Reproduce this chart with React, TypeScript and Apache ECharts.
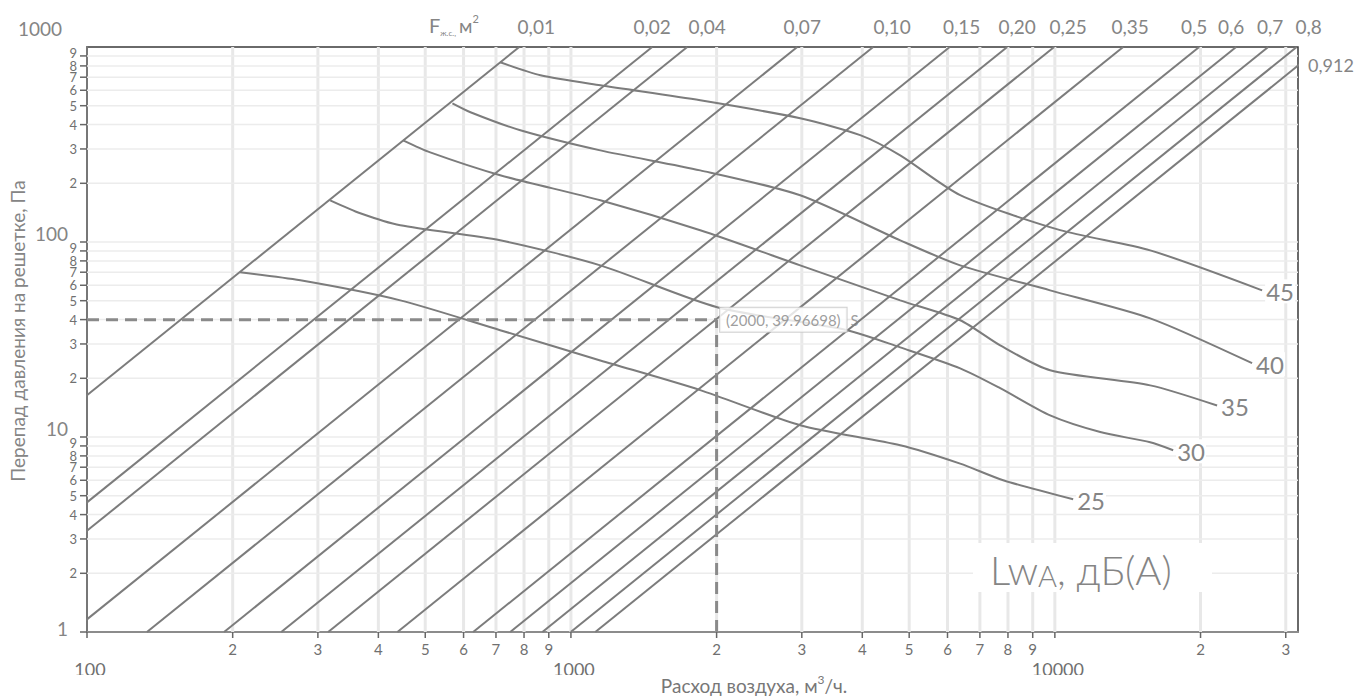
import React, { useEffect, useRef } from "react";
import * as echarts from "echarts";

const X_MIN = 100;
const X_MAX = 31800;
const Y_MIN = 1;
const Y_MAX = 1000;

// grille free-area lines (F, m2) and the flow at which each reaches 1 Pa and 1000 Pa
const grilleAreas = ["0,01", "0,02", "0,04", "0,07", "0,10", "0,15", "0,20", "0,25", "0,35", "0,5", "0,6", "0,7", "0,8", "0,912"];
const qAt1Pa = [24.7, 46.5, 55, 92.8, 133, 192, 252, 315, 438, 628, 749, 873, 999, 1123];
const qAt1000Pa = [782, 1472, 1739, 2935, 4213, 6063, 7971, 9967, 13840, 19870, 23690, 27590, 31600, 35500];

// noise level curves LwA, dB(A)
const noiseLevels = ["25", "30", "35", "40", "45"];
const noise25 = [[207, 69.9], [276, 63.6], [444, 50.2], [714, 35.3], [1150, 24.7], [1850, 17.4], [2977, 11.5], [4791, 9.07], [6373, 7.3], [7820, 6.0], [10910, 4.79]];
const noise30 = [[318, 163.6], [367, 140.4], [444, 121.8], [714, 102], [1150, 75.9], [2006, 46.3], [3723, 35.3], [4791, 28.8], [6373, 22.5], [7709, 17.8], [9777, 12.9], [12410, 10.6], [15740, 9.39], [17560, 8.55]];
const noise35 = [[450, 332], [512, 288], [714, 220], [1150, 163.6], [1850, 114.8], [2977, 75.9], [4791, 50.2], [6373, 39.7], [7709, 29.5], [9777, 22.0], [15740, 18.4], [21640, 14.5]];
const noise40 = [[569, 514], [620, 463], [786, 374], [1150, 295], [1850, 233], [2977, 173.6], [4791, 102], [6373, 75.9], [9777, 56.5], [15740, 40.6], [25560, 23.9]];
const noise45 = [[714, 835], [865, 716], [1150, 636], [1850, 533], [2977, 431], [3960, 353], [4791, 278], [6373, 174], [10256, 115], [15740, 90.6], [26810, 56.5]];
const noiseCurves = [noise25, noise30, noise35, noise40, noise45];

// working point
const workPoint = [2000, 39.96698];

// axis ticks
const xTickValues = [100, 200, 300, 400, 500, 600, 700, 800, 900, 1000, 2000, 3000, 4000, 5000, 6000, 7000, 8000, 9000, 10000, 20000, 30000];
const xTickLabels = ["", "2", "3", "4", "5", "6", "7", "8", "9", "", "2", "3", "4", "5", "6", "7", "8", "9", "", "2", "3"];
const xMajorValues = [100, 1000, 10000];
const xMajorLabels = ["100", "1000", "10000"];
const yTickValues = [1, 2, 3, 4, 5, 6, 7, 8, 9, 10, 20, 30, 40, 50, 60, 70, 80, 90, 100, 200, 300, 400, 500, 600, 700, 800, 900];
const yTickLabels = ["", "2", "3", "4", "5", "6", "7", "8", "9", "", "2", "3", "4", "5", "6", "7", "8", "9", "", "2", "3", "4", "5", "6", "7", "8", "9"];
const yMajorValues = [1, 10, 100, 1000];
const yMajorLabels = ["1", "10", "100", "1000"];

// horizontal nudges of the area labels relative to where each line meets the top edge (px)
const AREA_LABEL_NUDGE = [17, 0, 20, 5, 19, 12, 10, 14, 7, -5, -5, 2, 12];

const FONT = "Lato, 'Noto Sans', sans-serif";
const TXT = "#858585";
const TICK_TXT = "#707070";
const LINE = "#7c7c7c";

function buildOption() {
  const grilleSeries = qAt1Pa.map((q1, i) => ({
    type: "line",
    name: "F " + grilleAreas[i],
    data: [[q1, Y_MIN], [qAt1000Pa[i], Y_MAX]],
    symbol: "none",
    silent: true,
    z: 3,
    lineStyle: { color: LINE, width: 2 },
  }));

  const noiseSeries = noiseCurves.map((pts, i) => ({
    type: "line",
    name: "LwA " + noiseLevels[i],
    data: pts,
    symbol: "none",
    smooth: 0.25,
    silent: true,
    z: 4,
    lineStyle: { color: LINE, width: 2 },
    endLabel: {
      show: true,
      formatter: noiseLevels[i],
      distance: 3,
      offset: [0, 1],
      fontSize: 24,
      fontFamily: FONT,
      color: TXT,
      backgroundColor: "#fff",
      padding: [0, 1],
    },
  }));

  const xGrid = {
    type: "custom",
    silent: true,
    z: 1,
    data: xTickValues.map((v) => [v, Y_MIN]),
    renderItem: (params: any, api: any) => {
      const v = api.value(0);
      const i = params.dataIndex;
      const b = api.coord([v, Y_MIN]);
      const t = api.coord([v, Y_MAX]);
      const children: any[] = [];
      if (v > X_MIN) {
        children.push({ type: "line", shape: { x1: b[0], y1: b[1], x2: t[0], y2: t[1] }, style: { stroke: "#e8e8e8", lineWidth: 3 } });
      }
      children.push({ type: "line", shape: { x1: b[0], y1: b[1], x2: b[0], y2: b[1] + 6 }, style: { stroke: "#666", lineWidth: 1.5 } });
      if (xTickLabels[i]) {
        children.push({ type: "text", style: { text: xTickLabels[i], x: b[0], y: b[1] + 17, align: "center", verticalAlign: "middle", fontSize: 15, fontFamily: FONT, fill: TICK_TXT } });
      }
      return { type: "group", children };
    },
  };

  const xMajor = {
    type: "custom",
    silent: true,
    z: 1,
    data: xMajorValues.map((v) => [v, Y_MIN]),
    renderItem: (params: any, api: any) => {
      const b = api.coord([api.value(0), Y_MIN]);
      return { type: "text", style: { text: xMajorLabels[params.dataIndex], x: b[0] + 3, y: b[1] + 28, align: "center", verticalAlign: "top", fontSize: 18, fontFamily: FONT, fill: TICK_TXT } };
    },
  };

  const yGrid = {
    type: "custom",
    silent: true,
    z: 1,
    data: yTickValues.map((v) => [X_MIN, v]),
    renderItem: (params: any, api: any) => {
      const v = api.value(1);
      const i = params.dataIndex;
      const l = api.coord([X_MIN, v]);
      const r = api.coord([X_MAX, v]);
      const children: any[] = [];
      if (v > Y_MIN) {
        children.push({ type: "line", shape: { x1: l[0], y1: l[1], x2: r[0], y2: r[1] }, style: { stroke: "#ececec", lineWidth: 1.5 } });
      }
      children.push({ type: "line", shape: { x1: l[0] - 7, y1: l[1], x2: l[0], y2: l[1] }, style: { stroke: "#666", lineWidth: 1.5 } });
      if (yTickLabels[i]) {
        const lift = yTickLabels[i] === "9" ? 3 : 0;
        children.push({ type: "text", style: { text: yTickLabels[i], x: l[0] - 10, y: l[1] - lift, align: "right", verticalAlign: "middle", fontSize: 13, fontFamily: FONT, fill: TICK_TXT } });
      }
      return { type: "group", children };
    },
  };

  const yMajor = {
    type: "custom",
    silent: true,
    z: 1,
    data: yMajorValues.map((v) => [X_MIN, v]),
    renderItem: (params: any, api: any) => {
      const v = api.value(1);
      const p = api.coord([X_MIN, v]);
      const txt = yMajorLabels[params.dataIndex];
      let x = p[0] - 19;
      let y = p[1] + 1;
      let va = "bottom";
      if (v === Y_MAX) { x = p[0] - 25; y = p[1] - 19; va = "middle"; }
      if (v === Y_MIN) { x = p[0] - 19; y = p[1] - 4; va = "middle"; }
      return { type: "text", style: { text: txt, x, y, align: "right", verticalAlign: va, fontSize: 19, fontFamily: FONT, fill: TXT } };
    },
  };

  const areaLabels = {
    type: "custom",
    silent: true,
    z: 5,
    data: qAt1000Pa.map((q) => [q, Y_MAX]),
    renderItem: (params: any, api: any) => {
      const i = params.dataIndex;
      const q = api.value(0);
      const p = api.coord([q, Y_MAX]);
      const right = api.coord([X_MAX, Y_MAX])[0];
      if (p[0] <= right + 2) {
        return { type: "text", style: { text: grilleAreas[i], x: p[0] + (AREA_LABEL_NUDGE[i] || 0), y: p[1] - 21, align: "center", verticalAlign: "middle", fontSize: 19, fontFamily: FONT, fill: TXT } };
      }
      const lq1 = Math.log10(qAt1Pa[i]);
      const lq2 = Math.log10(q);
      const lp = (3 * (Math.log10(X_MAX) - lq1)) / (lq2 - lq1);
      const pr = api.coord([X_MAX, Math.pow(10, lp)]);
      return { type: "text", style: { text: grilleAreas[i], x: pr[0] + 10, y: pr[1] - 1, align: "left", verticalAlign: "middle", fontSize: 18, fontFamily: FONT, fill: TXT } };
    },
  };

  const dashStyle = { color: "#8a8a8a", width: 3, type: [12, 7] };
  const dashH = {
    type: "line",
    data: [[X_MIN, workPoint[1]], workPoint],
    symbol: "none",
    silent: true,
    z: 6,
    lineStyle: dashStyle,
  };
  const dashV = {
    type: "line",
    data: [[workPoint[0], Y_MIN], workPoint],
    symbol: "none",
    silent: true,
    z: 6,
    lineStyle: dashStyle,
  };
  const pointSeries = {
    type: "scatter",
    data: [workPoint],
    symbolSize: 1,
    silent: true,
    z: 7,
    itemStyle: { color: "rgba(0,0,0,0)" },
    label: {
      show: true,
      position: "right",
      distance: 3,
      formatter: "{box|(" + workPoint[0] + ", " + workPoint[1] + ")} S",
      fontSize: 15,
      fontFamily: FONT,
      color: TXT,
      rich: {
        box: {
          fontSize: 15,
          fontFamily: FONT,
          color: TXT,
          backgroundColor: "#fff",
          borderColor: "#c4c4c4",
          borderWidth: 1,
          padding: [5, 6, 4, 6],
        },
      },
    },
  };

  return {
    animation: false,
    backgroundColor: "#fff",
    grid: {
      left: 87,
      top: 47,
      width: 1211,
      height: 585,
      show: true,
      borderColor: "#3a3a3a",
      borderWidth: 1.5,
      containLabel: false,
      outerBoundsMode: "none",
    },
    xAxis: {
      type: "log",
      logBase: 10,
      min: X_MIN,
      max: X_MAX,
      axisLine: { show: true, onZero: false, lineStyle: { color: "#8c8c8c", width: 2 } },
      axisTick: { show: false },
      axisLabel: { show: false },
      splitLine: { show: false },
    },
    yAxis: {
      type: "log",
      logBase: 10,
      min: Y_MIN,
      max: Y_MAX,
      axisLine: { show: true, onZero: false, lineStyle: { color: "#777", width: 2 } },
      axisTick: { show: false },
      axisLabel: { show: false },
      splitLine: { show: false },
    },
    graphic: [
      {
        type: "text",
        x: 429,
        y: 25,
        z: 50,
        style: {
          text: "{f|F}{s|ж.с.,} {m|м}{p|2}",
          verticalAlign: "middle",
          fill: TXT,
          fontFamily: FONT,
          rich: {
            f: { fontSize: 20, lineHeight: 24, fontFamily: FONT, fill: TXT, verticalAlign: "middle" },
            s: { fontSize: 8, lineHeight: 9, fontFamily: FONT, fill: TXT, verticalAlign: "bottom" },
            m: { fontSize: 19, lineHeight: 24, fontFamily: FONT, fill: TXT, verticalAlign: "middle" },
            p: { fontSize: 11, lineHeight: 12, fontFamily: FONT, fill: TXT, verticalAlign: "top" },
          },
        },
      },
      {
        type: "text",
        x: 17,
        y: 331,
        rotation: Math.PI / 2,
        z: 50,
        style: {
          text: "Перепад давления на решетке, Па",
          align: "center",
          verticalAlign: "middle",
          fontSize: 19,
          fontFamily: FONT,
          fill: TXT,
        },
      },
      {
        type: "rect",
        z: 50,
        shape: { x: 973, y: 543, width: 239, height: 49 },
        style: { fill: "#fff" },
      },
      {
        type: "text",
        x: 990,
        y: 568,
        z: 51,
        style: {
          text: "{a|Lw}{b|A}{a|, дБ(A)}",
          verticalAlign: "middle",
          fill: TXT,
          rich: {
            a: { fontSize: 40, lineHeight: 44, fontFamily: FONT, fontWeight: 300, fill: TXT, verticalAlign: "bottom" },
            b: { fontSize: 29, lineHeight: 37, fontFamily: FONT, fontWeight: 300, fill: TXT, verticalAlign: "bottom" },
          },
        },
      },
      {
        type: "rect",
        z: 60,
        shape: { x: 0, y: 675, width: 1357, height: 22 },
        style: { fill: "#fff" },
      },
      {
        type: "text",
        x: 754,
        y: 684,
        z: 61,
        style: {
          text: "{a|Расход воздуха, м}{s|3}{a|/ч.}",
          align: "center",
          verticalAlign: "middle",
          fill: "#777",
          rich: {
            a: { fontSize: 19, lineHeight: 22, fontFamily: FONT, fill: "#777", verticalAlign: "bottom" },
            s: { fontSize: 12, lineHeight: 22, fontFamily: FONT, fill: "#777", verticalAlign: "top" },
          },
        },
      },
    ],
    series: [xGrid, yGrid, xMajor, yMajor, ...grilleSeries, ...noiseSeries, areaLabels, dashH, dashV, pointSeries],
  };
}

export default function App() {
  const ref = useRef<HTMLDivElement>(null);
  useEffect(() => {
    document.body.style.margin = "0";
    document.body.style.overflow = "hidden";
    const chart = echarts.init(ref.current as HTMLDivElement, undefined, { renderer: "svg" });
    chart.setOption(buildOption() as any);
    return () => chart.dispose();
  }, []);
  return <div ref={ref} style={{ width: 1357, height: 697 }} />;
}
